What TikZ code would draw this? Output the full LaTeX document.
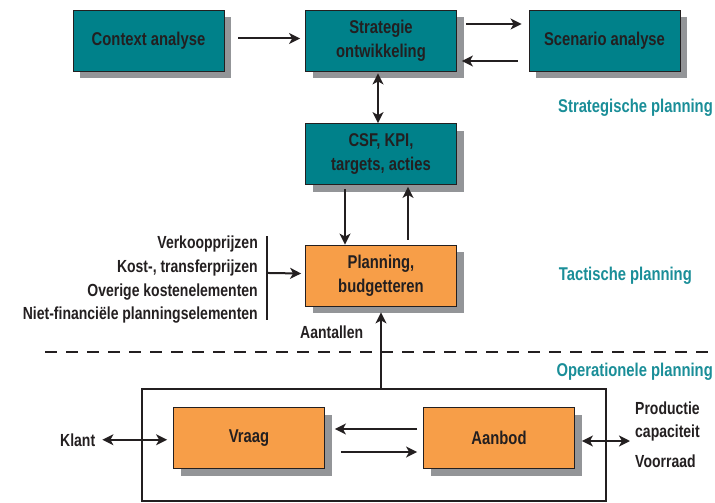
\documentclass[tikz,border=0pt]{standalone}
\usepackage{fontspec}
\setmainfont{Liberation Sans}[FakeStretch=0.8]
\usetikzlibrary{arrows.meta,shadows,calc}
\definecolor{tealbox}{HTML}{00818A}
\definecolor{orangebox}{HTML}{F79E48}
\definecolor{shadowgray}{HTML}{939598}
\definecolor{txt}{HTML}{231F20}
\definecolor{tealtxt}{HTML}{1A8E98}
\tikzset{
  box/.style={draw=txt, line width=0.8pt, minimum width=151pt, minimum height=61pt,
    align=center, inner sep=2pt, font=\fontsize{18.5}{24}\selectfont\bfseries, text=txt,
    general shadow={shadow xshift=7pt, shadow yshift=-7pt, fill=shadowgray}},
  tbox/.style={box, fill=tealbox},
  obox/.style={box, fill=orangebox},
  arr/.style={line width=2pt, draw=txt, -{Stealth[length=11pt,width=11pt,inset=3pt]}},
  darr/.style={line width=2pt, draw=txt, {Stealth[length=11pt,width=11pt,inset=3pt]}-{Stealth[length=11pt,width=11pt,inset=3pt]}},
  lab/.style={font=\fontsize{17.5}{20}\selectfont\bfseries, text=txt, inner sep=0pt},
  tlab/.style={font=\fontsize{18.5}{22}\selectfont\bfseries, text=tealtxt, inner sep=0pt, anchor=east},
}
\begin{document}
\begin{tikzpicture}[x=1pt,y=-1pt]
\useasboundingbox (0,0) rectangle (715,503);
% big box
\node[draw=txt, line width=1.6pt, minimum width=464pt, minimum height=112pt, inner sep=0pt] (big) at (374,445) {};
% boxes
\node[tbox] (ctx) at (148.5,40.5) {Context analyse};
\node[tbox] (str) at (381,40.5) {Strategie\\ontwikkeling};
\node[tbox] (scn) at (604.5,40.5) {Scenario analyse};
\node[tbox] (csf) at (381,154) {CSF, KPI,\\targets, acties};
\node[obox] (pln) at (381,275.5) {Planning,\\budgetteren};
\node[obox] (vrg) at (249,438) {Vraag};
\node[obox] (anb) at (499,438) {Aanbod};
% arrows top
\draw[arr] ($(ctx.east)+(14,-2)$) -- ($(str.west)+(-5,-2)$);
\draw[arr] ($(str.east)+(9,-16.5)$) -- ($(scn.west)+(-7,-16.5)$);
\draw[arr] ($(scn.west)+(-11,20.5)$) -- ($(str.east)+(5,20.5)$);
\draw[darr] ($(str.south)+(-3,2)$) -- ($(csf.north)+(-3,0)$);
\draw[arr] ($(csf.south)+(-36,4)$) -- ($(pln.north)+(-36,0)$);
\draw[arr] ($(pln.north)+(27,-5)$) -- ($(csf.south)+(27,2)$);
% bracket
\coordinate (bt) at (267,236);
\coordinate (bb) at (267,320);
\draw[line width=2pt, draw=txt] (bt) -- (bb);
\draw[arr] ($(bt)!0.44!(bb)$) -- ($(pln.west)+(-4,-2)$);
\node[lab, anchor=base east] (l1) at (258,248) {Verkoopprijzen};
\node[lab, anchor=base east] (l2) at (258,272) {Kost-, transferprijzen};
\node[lab, anchor=base east] (l3) at (258,296) {Overige kostenelementen};
\node[lab, anchor=base east] (l4) at (258,319) {Niet-financiële planningselementen};
\node[lab, anchor=base west] (aant) at (300,338) {Aantallen};
\draw[arr] (big.north -| pln.south) -- ($(pln.south)+(0,6)$);
% dashed
\coordinate (d1) at (45,352);
\coordinate (d2) at (715,352);
\draw[line width=2.5pt, draw=txt, dash pattern=on 12pt off 9pt] (d1) -- (d2);
% teal labels
\node[tlab, anchor=base east] (sp) at (713,112) {Strategische planning};
\node[tlab, anchor=base east] (tp) at (692,280) {Tactische planning};
\node[tlab, anchor=base east] (op) at (713,376) {Operationele planning};
% bottom arrows
\draw[arr] ($(anb.west)+(-6,-9)$) -- ($(vrg.east)+(10,-9)$);
\draw[arr] ($(vrg.east)+(16,14)$) -- ($(anb.west)+(-6,14)$);
\node[lab, anchor=base west] (klant) at (60,446) {Klant};
\coordinate (kl1) at ($(klant.east)+(7,0)$);
\coordinate (kl2) at ($(vrg.west |- klant.east)+(-6,0)$);
\draw[darr] (kl1) -- (kl2);
\node[lab, anchor=base west] (prod) at (635,414) {Productie};
\node[lab, anchor=base west] (cap) at (635,437) {capaciteit};
\node[lab, anchor=base west] (voor) at (635,467) {Voorraad};
\coordinate (ab1) at ($(anb.east)+(7,3)$);
\coordinate (ab2) at ($(cap.west |- ab1)+(-5,0)$);
\draw[darr] (ab1) -- (ab2);
\end{tikzpicture}
\end{document}
